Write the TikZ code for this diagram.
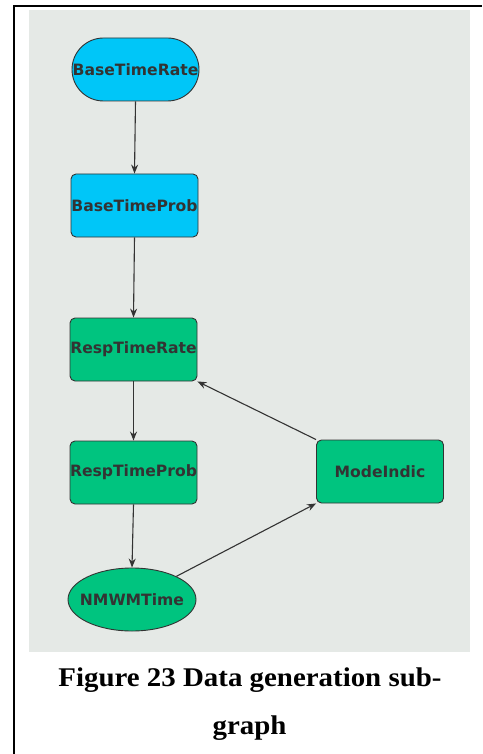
\documentclass[tikz,border=0pt]{standalone}
\usepackage{fontspec}
\setmainfont{Liberation Serif}
\newfontfamily\capfont[FakeStretch=1.07]{Liberation Serif}
\newfontfamily\nodefont{DejaVu Sans}
\usetikzlibrary{arrows.meta,shapes.geometric}
\definecolor{panel}{HTML}{E5E9E6}
\definecolor{blueish}{HTML}{00C6F8}
\definecolor{greenish}{HTML}{00C47F}
\definecolor{ink}{HTML}{333333}
\definecolor{edge}{HTML}{333333}
\tikzset{
  box/.style={draw=ink, line width=0.9pt, rounded corners=5pt,
    minimum width=127pt, minimum height=63pt, inner sep=0pt,
    font=\nodefont\bfseries\fontsize{15.6}{18}\selectfont, text=ink},
  pill/.style={box, rounded corners=31.5pt},
  oval/.style={ellipse, draw=ink, line width=0.9pt, minimum width=128pt,
    minimum height=63pt, inner sep=0pt,
    font=\nodefont\bfseries\fontsize{15.6}{18}\selectfont, text=ink},
  link/.style={draw=edge, line width=1.1pt,
    -{Stealth[length=9pt,width=7pt,inset=3pt]}},
  caption/.style={font=\capfont\bfseries\fontsize{27}{30}\selectfont, text=black, inner sep=0pt}
}
\begin{document}
\begin{tikzpicture}[x=1pt, y=-1pt]
  \useasboundingbox (0,0) rectangle (482,754);
  % frame lines and panel
  \fill[white] (0,0) rectangle (482,754);
  \draw[line width=2.2pt] (14,754) -- (14,6) -- (482,6);
  \fill[panel] (29,10) rectangle (470,652);

  % nodes
  \node[pill, fill=blueish] (btr) at (135.5,69.5) {BaseTimeRate};
  \node[box, fill=blueish] (btp) at (134.5,205.5) {BaseTimeProb};
  \node[box, fill=greenish] (rtr) at (133.5,349.5) {RespTimeRate};
  \node[box, fill=greenish] (rtp) at (133.5,472.5) {RespTimeProb};
  \node[box, fill=greenish] (mi) at (380,471.5) {ModeIndic};
  \node[oval, fill=greenish] (nm) at (132,599.5) {\makebox[0pt]{NMWMTime}};

  % connectors
  \draw[link] (btr.south) -- (btp.north);
  \draw[link] (btp.south) -- (rtr.north);
  \draw[link] (rtr.south) -- (rtp.north);
  \draw[link] (rtp.south) -- (nm.north);
  \draw[link] (nm) -- (mi.south west);
  \draw[link] (mi.north west) -- (rtr.south east);

  % caption
  \node[caption, anchor=base] (cap1) at (250,686) {Figure 23 Data generation sub-};
  \node[caption, anchor=base] (cap2) at (249.5,734) {graph};
\end{tikzpicture}
\end{document}
